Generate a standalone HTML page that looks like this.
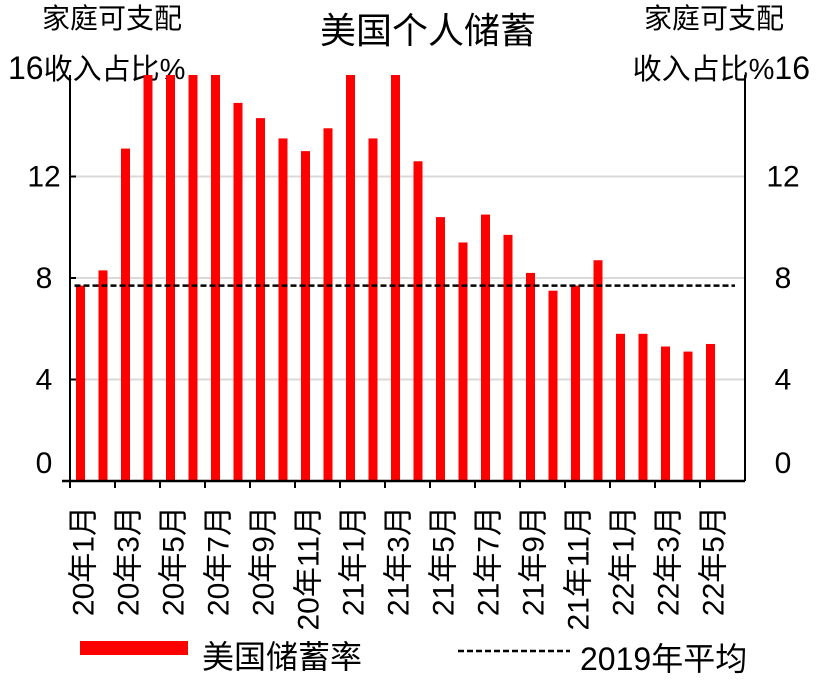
<!DOCTYPE html>
<html><head><meta charset="utf-8"><style>
body{margin:0;background:#fff;}
svg{display:block;font-family:"Liberation Sans","Noto Sans CJK SC",sans-serif;}
</style></head><body>
<svg id="c" width="825" height="690">
<text x="112" y="28" font-size="28" text-anchor="middle">家庭可支配</text>
<text x="8" y="79" font-size="29"><tspan font-size="32">16</tspan>收入占比%</text>
<text x="428" y="43" font-size="36" text-anchor="middle">美国个人储蓄</text>
<text x="714" y="28" font-size="28" text-anchor="middle">家庭可支配</text>
<text x="810" y="79" font-size="29" text-anchor="end">收入占比%<tspan font-size="32">16</tspan></text>
<g id="grid"></g><g id="bars"></g><g id="axes"></g>
<g>
<rect x="80" y="641" width="108" height="14" fill="#ff0000"/>
<text x="202" y="668" font-size="32">美国储蓄率</text>
<line x1="458" y1="651" x2="570" y2="651" stroke="#000" stroke-width="2.5" stroke-dasharray="6,3"/>
<text x="580" y="670" font-size="32">2019年平均</text>
</g>
</svg>
<script>
const categories=["20年1月","20年2月","20年3月","20年4月","20年5月","20年6月","20年7月","20年8月","20年9月","20年10月","20年11月","20年12月","21年1月","21年2月","21年3月","21年4月","21年5月","21年6月","21年7月","21年8月","21年9月","21年10月","21年11月","21年12月","22年1月","22年2月","22年3月","22年4月","22年5月"];
const savingsRate=[7.7,8.3,13.1,33.8,24.9,19.0,17.6,14.9,14.3,13.5,13.0,13.9,19.9,13.5,27.0,12.6,10.4,9.4,10.5,9.7,8.2,7.5,7.7,8.7,5.8,5.8,5.3,5.1,5.4];
const avg2019=[7.7];
const yTicks=[0,4,8,12];
const NS="http://www.w3.org/2000/svg";
const X0=70,X1=745,Y0=481,Y16=75,YMAX=16,step=22.5;
const y=v=>Y0-(Math.min(v,YMAX)/YMAX)*(Y0-Y16);
const x=i=>80.5+i*step;
function mk(t,a,p){const e=document.createElementNS(NS,t);for(const k in a)e.setAttribute(k,a[k]);p.appendChild(e);return e;}
const grid=document.getElementById('grid'),bars=document.getElementById('bars'),axes=document.getElementById('axes');
yTicks.forEach(v=>{
 if(v>0){const g=mk('line',{x1:X0,x2:X1,y1:y(v),y2:y(v),stroke:'#d9d9d9','stroke-width':2},grid);
 
 }
 const off=v===0?-8:10;
 const l=mk('text',{x:44,y:y(v)+off,'font-size':30,'text-anchor':'middle'},axes);l.textContent=v;
 
 
 const r=mk('text',{x:783,y:y(v)+off,'font-size':30,'text-anchor':'middle'},axes);r.textContent=v;
 
 
 const tl=mk('line',{x1:X0,x2:X0+6,y1:y(v),y2:y(v),stroke:'#000','stroke-width':2},axes);
 
 
});
savingsRate.forEach((v,i)=>{
 const b=mk('rect',{x:x(i)-4.5,y:y(v),width:9,height:Y0-y(v),fill:'#ff0000'},bars);
 
 
});
const d=mk('line',{x1:x(0)-6,x2:X1-10,y1:y(avg2019[0]),y2:y(avg2019[0]),stroke:'#000','stroke-width':2.5,'stroke-dasharray':'6,3'},bars);


const la=mk('line',{x1:X0,x2:X0,y1:Y16,y2:Y0,stroke:'#000','stroke-width':2},axes);


const ra=mk('line',{x1:X1,x2:X1,y1:Y16,y2:Y0,stroke:'#000','stroke-width':2},axes);


const xa=mk('line',{x1:X0-8,x2:X1,y1:Y0,y2:Y0,stroke:'#000','stroke-width':2.5},axes);


for(let i=0;i<=categories.length;i+=2){
 const tx=X0+i*step;
 const t=mk('line',{x1:tx,x2:tx,y1:Y0,y2:Y0+7,stroke:'#000','stroke-width':2},axes);
 
 
}
categories.forEach((c,i)=>{
 if(i%2)return;
 const lx=x(i)+13,ly=506;
 const t=mk('text',{x:lx,y:ly,'font-size':30,'text-anchor':'end',transform:`rotate(-90 ${lx} ${ly})`},axes);
 t.textContent=c;
 
 
});
</script>
</body></html>
